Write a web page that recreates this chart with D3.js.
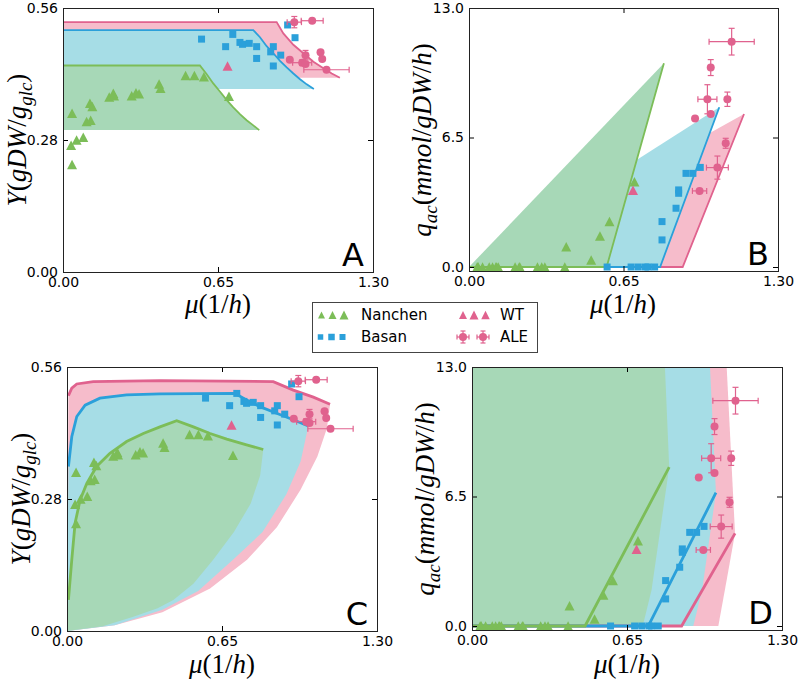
<!DOCTYPE html>
<html><head><meta charset="utf-8">
<script src="https://cdn.jsdelivr.net/npm/d3@7"></script>
<style>body{margin:0;background:#fff}</style>
</head><body><svg id="c" width="800" height="680" xmlns="http://www.w3.org/2000/svg"></svg>
<script>
// ---------------- data ----------------
const X_TICKS = [0, 0.65, 1.30];
const Y_TICKS_YIELD = [0, 0.28, 0.56];
const Y_TICKS_QAC = [0, 6.5, 13.0];
const LEGEND_LABELS = ["Nanchen", "Basan", "WT", "ALE"];
const PANEL_LETTERS = ["A", "B", "C", "D"];

// experimental data
const nanMu = [0.034, 0.038, 0.038, 0.057, 0.085, 0.099, 0.113, 0.116, 0.123, 0.194, 0.211, 0.214, 0.288, 0.306, 0.319, 0.403, 0.409, 0.514, 0.551, 0.591, 0.696];
const nanY  = [0.269, 0.337, 0.228, 0.280, 0.286, 0.319, 0.358, 0.322, 0.351, 0.371, 0.379, 0.374, 0.374, 0.380, 0.378, 0.399, 0.390, 0.417, 0.417, 0.414, 0.373];
const nanQ  = [0, 0, 0, 0, 0, 0, 0, 0, 0, 0, 0, 0, 0, 0, 0, 0, 1.02, 0.35, 1.56, 2.28, 4.28];

const basMu = [0.581, 0.682, 0.712, 0.742, 0.753, 0.781, 0.812, 0.812, 0.871, 0.882, 0.882, 0.913, 0.942, 0.973];
const basY  = [0.494, 0.478, 0.504, 0.487, 0.483, 0.485, 0.478, 0.453, 0.467, 0.478, 0.437, 0.460, 0.524, 0.497];
const basQ  = [0, 0, 0, 0, 0, 0, 1.36, 2.28, 2.95, 3.70, 3.87, 4.70, 4.70, 5.00];

const wtMu = [0.690];
const wtY  = [0.437];
const wtQ  = [3.85];

const aleMu    = [1.105, 1.017, 1.003, 1.087, 1.017, 0.951, 1.080, 1.045, 0.970];
const aleY     = [0.429, 0.460, 0.444, 0.452, 0.441, 0.450, 0.466, 0.533, 0.530];
const aleQ     = [11.31, 10.01, 8.42, 8.42, 7.68, 7.46, 6.21, 4.99, 3.82];
const aleMuErr = [0.095, 0, 0.040, 0, 0, 0, 0, 0.046, 0.030];
const aleYErr  = [0, 0.010, 0.006, 0, 0, 0, 0, 0, 0.012];
const aleQErr  = [0.67, 0.40, 0.73, 0.36, 0, 0, 0.25, 0.58, 0];

// panel A model envelopes (max yield curve; fill down to curve end value)
const A_gMu = [0, 0.574, 0.602, 0.630, 0.658, 0.686, 0.714, 0.742, 0.770, 0.798, 0.823];
const A_gY  = [0.438, 0.438, 0.420, 0.400, 0.383, 0.365, 0.349, 0.335, 0.322, 0.311, 0.301];
const A_bMu = [0, 0.798, 0.826, 0.854, 0.882, 0.910, 0.938, 0.966, 0.994, 1.022, 1.052];
const A_bY  = [0.513, 0.513, 0.498, 0.479, 0.464, 0.448, 0.434, 0.421, 0.409, 0.398, 0.388];
const A_pMu = [0, 0.896, 0.924, 0.966, 1.008, 1.050, 1.092, 1.127, 1.161];
const A_pY  = [0.530, 0.530, 0.506, 0.482, 0.464, 0.446, 0.432, 0.421, 0.412];

// panel B model: triangles (origin, onset, apex)
const B_gMu = [0, 0.579, 0.820];  const B_gQ = [0, 0, 10.23];
const B_bMu = [0, 0.804, 1.053];  const B_bQ = [0, 0, 8.02];
const B_pMu = [0, 0.899, 1.157];  const B_pQ = [0, 0, 7.68];

// panel C model: upper (line) and lower boundary
const C_gUpMu = [0.006, 0.020, 0.034, 0.055, 0.083, 0.124, 0.180, 0.250, 0.320, 0.390, 0.460, 0.530, 0.600, 0.670, 0.753, 0.823];
const C_gUpY  = [0.066, 0.151, 0.229, 0.278, 0.313, 0.349, 0.377, 0.402, 0.419, 0.433, 0.446, 0.433, 0.419, 0.407, 0.395, 0.385];
const C_gLoMu = [0, 0.150, 0.278, 0.380, 0.446, 0.530, 0.613, 0.700, 0.770, 0.810, 0.823];
const C_gLoY  = [0, 0.010, 0.030, 0.048, 0.066, 0.100, 0.151, 0.210, 0.270, 0.330, 0.385];
const C_bUpMu = [0.006, 0.020, 0.041, 0.076, 0.138, 0.250, 0.390, 0.704, 0.753, 0.809, 0.879, 0.949, 1.012];
const C_bUpY  = [0.349, 0.412, 0.455, 0.479, 0.494, 0.501, 0.503, 0.504, 0.490, 0.476, 0.462, 0.448, 0.435];
const C_bLoMu = [0, 0.200, 0.400, 0.550, 0.696, 0.820, 0.920, 0.980, 1.012];
const C_bLoY  = [0, 0.012, 0.045, 0.085, 0.151, 0.210, 0.290, 0.360, 0.435];
const C_pUpMu = [0.006, 0.020, 0.041, 0.110, 0.390, 0.865, 0.949, 1.033, 1.103];
const C_pUpY  = [0.499, 0.515, 0.524, 0.529, 0.531, 0.529, 0.511, 0.496, 0.481];
const C_pLoMu = [0, 0.200, 0.400, 0.600, 0.755, 0.880, 0.980, 1.050, 1.090, 1.103];
const C_pLoY  = [0, 0.012, 0.040, 0.090, 0.151, 0.220, 0.300, 0.370, 0.430, 0.481];

// panel D model: region right edges (bottom to top) and lines
const D_gEdgeMu = [0.716, 0.753, 0.827, 0.809]; const D_gEdgeQ = [0, 1.81, 7.97, 13.0];
const D_bEdgeMu = [0.928, 0.965, 1.023, 0.998]; const D_bEdgeQ = [0, 1.81, 6.69, 13.0];
const D_pEdgeMu = [1.033, 1.068, 1.103, 1.068]; const D_pEdgeQ = [0, 2.31, 4.65, 13.0];
const D_gLineMu = [0, 0.474, 0.827]; const D_gLineQ = [0, 0, 7.97];
const D_bLineMu = [0, 0.739, 1.023]; const D_bLineQ = [0, 0, 6.69];
const D_pLineMu = [0, 0.879, 1.103]; const D_pLineQ = [0, 0, 4.65];

// ---------------- style ----------------
const colG = "#7cbd58", colB = "#2ba0da", colP = "#e0628e";
const fillG = "#a7d8b7", fillB = "#a6dde6", fillP = "#f6bccb";
const TICKFONT = "DejaVu Sans";
const MATHFONT = "Liberation Serif";

const svg = d3.select("#c");
const zip = (a, b) => a.map((v, i) => [v, b[i]]);

function panel(name, box, ydom) {
  const x = d3.scaleLinear().domain([0, 1.3]).range([box.x0, box.x1]);
  const y = d3.scaleLinear().domain(ydom).range([box.y1, box.y0]);
  const id = "clip" + name;
  svg.append("clipPath").attr("id", id).append("rect")
    .attr("x", box.x0).attr("y", box.y0).attr("width", box.x1 - box.x0).attr("height", box.y1 - box.y0);
  const g = svg.append("g");
  const plot = g.append("g").attr("clip-path", `url(#${id})`);
  return { x, y, g, plot, box };
}

function axes(P, yticks, yfmt) {
  const { x, y, g, box } = P;
  const ax = (gen, tr) => {
    const a = g.append("g").attr("transform", tr).call(gen);
    a.select(".domain").remove();
    a.attr("font-family", TICKFONT).attr("font-size", 14);
    a.selectAll("line").attr("stroke", "#000");
    a.selectAll("text").attr("fill", "#000");
    return a;
  };
  ax(d3.axisBottom(x).tickValues(X_TICKS).tickFormat(d3.format(".2f")).tickSize(-5).tickPadding(5), `translate(0,${box.y1})`);
  ax(d3.axisTop(x).tickValues(X_TICKS).tickFormat("").tickSize(-5), `translate(0,${box.y0})`);
  ax(d3.axisLeft(y).tickValues(yticks).tickFormat(d3.format(yfmt)).tickSize(-5).tickPadding(5), `translate(${box.x0},0)`);
  ax(d3.axisRight(y).tickValues(yticks).tickFormat("").tickSize(-5), `translate(${box.x1},0)`);
  g.append("rect").attr("x", box.x0 + 0.5).attr("y", box.y0 + 0.5)
    .attr("width", box.x1 - box.x0).attr("height", box.y1 - box.y0)
    .attr("fill", "none").attr("stroke", "#222").attr("stroke-width", 1);
}

function letter(P, t) {
  P.g.append("text").attr("x", P.box.x1 - 9).attr("y", P.box.y1 - 6)
    .attr("text-anchor", "end").attr("font-family", TICKFONT).attr("font-size", 32).attr("fill", "#000").text(t);
}

function triPath(w, h) { return `M0,${-h/2}L${w/2},${h/2}L${-w/2},${h/2}Z`; }

function markers(P, ykey) {
  const { x, y } = P;
  const yN = ykey === "Y" ? nanY : nanQ;
  const yB = ykey === "Y" ? basY : basQ;
  const yW = ykey === "Y" ? wtY : wtQ;
  const yA = ykey === "Y" ? aleY : aleQ;
  const yAE = ykey === "Y" ? aleYErr : aleQErr;
  const layer = P.g.append("g");
  layer.selectAll(".n").data(zip(nanMu, yN)).join("path")
    .attr("d", triPath(10, 9.5)).attr("fill", colG)
    .attr("transform", d => `translate(${x(d[0])},${y(d[1])})`);
  layer.selectAll(".b").data(zip(basMu, yB)).join("rect")
    .attr("x", d => x(d[0]) - 3.5).attr("y", d => y(d[1]) - 3.5)
    .attr("width", 7).attr("height", 7).attr("fill", colB);
  layer.selectAll(".w").data(zip(wtMu, yW)).join("path")
    .attr("d", triPath(10, 9.5)).attr("fill", colP)
    .attr("transform", d => `translate(${x(d[0])},${y(d[1])})`);
  const ale = aleMu.map((m, i) => ({ m, v: yA[i], em: aleMuErr[i], ev: yAE[i] }));
  const eb = layer.append("g").attr("stroke", colP).attr("stroke-width", 1.2);
  ale.forEach(d => {
    const cx = x(d.m), cy = y(d.v);
    if (d.em > 0) {
      const xa = x(d.m - d.em), xb = x(d.m + d.em);
      eb.append("line").attr("x1", xa).attr("x2", xb).attr("y1", cy).attr("y2", cy);
      eb.append("line").attr("x1", xa).attr("x2", xa).attr("y1", cy - 3).attr("y2", cy + 3);
      eb.append("line").attr("x1", xb).attr("x2", xb).attr("y1", cy - 3).attr("y2", cy + 3);
    }
    if (d.ev > 0) {
      const ya = y(d.v - d.ev), yb = y(d.v + d.ev);
      eb.append("line").attr("x1", cx).attr("x2", cx).attr("y1", ya).attr("y2", yb);
      eb.append("line").attr("x1", cx - 3).attr("x2", cx + 3).attr("y1", ya).attr("y2", ya);
      eb.append("line").attr("x1", cx - 3).attr("x2", cx + 3).attr("y1", yb).attr("y2", yb);
    }
  });
  layer.selectAll(".a").data(ale).join("circle")
    .attr("cx", d => x(d.m)).attr("cy", d => y(d.v)).attr("r", 4).attr("fill", colP);
}

function mathLabel(parts, tx, ty, rot) {
  const t = svg.append("text").attr("font-family", MATHFONT).attr("font-size", 27)
    .attr("fill", "#000").attr("text-anchor", "middle")
    .attr("transform", `translate(${tx},${ty})` + (rot ? " rotate(-90)" : ""));
  parts.forEach(p => {
    const s = t.append("tspan").text(p.t).attr("font-style", p.i ? "italic" : "normal");
    if (p.sub) s.attr("font-size", 19).attr("dy", 6);
    if (p.back) s.attr("dy", -6);
  });
}
const XLAB = [{ t: "μ", i: 1 }, { t: "(1/" }, { t: "h", i: 1 }, { t: ")" }];
const YLAB = [{ t: "Y", i: 1 }, { t: "(" }, { t: "gDW", i: 1 }, { t: "/" }, { t: "g", i: 1 }, { t: "glc", i: 1, sub: 1 }, { t: ")", back: 1 }];
const QLAB = [{ t: "q", i: 1 }, { t: "ac", i: 1, sub: 1 }, { t: "(", back: 1 }, { t: "mmol", i: 1 }, { t: "/" }, { t: "gDW", i: 1 }, { t: "/" }, { t: "h", i: 1 }, { t: ")" }];

const lineGen = (P) => d3.line().x(d => P.x(d[0])).y(d => P.y(d[1]));

// ---------------- Panel A ----------------
{
  const P = panel("A", { x0: 63, x1: 373, y0: 8, y1: 272 }, [0, 0.56]);
  const sets = [[A_pMu, A_pY, fillP, colP], [A_bMu, A_bY, fillB, colB], [A_gMu, A_gY, fillG, colG]];
  sets.forEach(([m, v, f]) => {
    const base = v[v.length - 1];
    P.plot.append("path").datum(zip(m, v))
      .attr("d", d3.area().x(d => P.x(d[0])).y0(P.y(base)).y1(d => P.y(d[1])))
      .attr("fill", f);
  });
  sets.forEach(([m, v, f, c]) => {
    P.plot.append("path").datum(zip(m, v)).attr("d", lineGen(P))
      .attr("fill", "none").attr("stroke", c).attr("stroke-width", 1.8);
  });
  markers(P, "Y");
  axes(P, Y_TICKS_YIELD, ".2f");
  letter(P, PANEL_LETTERS[0]);
  mathLabel(YLAB, 26, 140, true);
  mathLabel(XLAB, 218, 313, false);
}

// ---------------- Panel B ----------------
{
  const P = panel("B", { x0: 469, x1: 778, y0: 8, y1: 271 }, [-0.2, 13]);
  const sets = [[B_pMu, B_pQ, fillP, colP], [B_bMu, B_bQ, fillB, colB], [B_gMu, B_gQ, fillG, colG]];
  sets.forEach(([m, q, f]) => {
    P.plot.append("path").datum(zip(m, q)).attr("d", lineGen(P).curve(d3.curveLinearClosed)).attr("fill", f);
  });
  sets.forEach(([m, q, f, c]) => {
    P.plot.append("path").datum(zip(m, q)).attr("d", lineGen(P))
      .attr("fill", "none").attr("stroke", c).attr("stroke-width", 1.8);
  });
  markers(P, "Q");
  axes(P, Y_TICKS_QAC, ".1f");
  letter(P, PANEL_LETTERS[1]);
  mathLabel(QLAB, 431, 140, true);
  mathLabel(XLAB, 623, 313, false);
}

// ---------------- Panel C ----------------
{
  const P = panel("C", { x0: 67, x1: 377, y0: 367, y1: 631 }, [0, 0.56]);
  const sets = [
    [C_pUpMu, C_pUpY, C_pLoMu, C_pLoY, fillP, colP],
    [C_bUpMu, C_bUpY, C_bLoMu, C_bLoY, fillB, colB],
    [C_gUpMu, C_gUpY, C_gLoMu, C_gLoY, fillG, colG]];
  sets.forEach(([um, uy, lm, ly, f]) => {
    const poly = zip(um, uy).concat(zip(lm, ly).reverse());
    P.plot.append("path").datum(poly).attr("d", lineGen(P).curve(d3.curveLinearClosed)).attr("fill", f);
  });
  sets.forEach(([um, uy, lm, ly, f, c]) => {
    P.plot.append("path").datum(zip(um, uy)).attr("d", lineGen(P))
      .attr("fill", "none").attr("stroke", c).attr("stroke-width", 2.8);
  });
  markers(P, "Y");
  axes(P, Y_TICKS_YIELD, ".2f");
  letter(P, PANEL_LETTERS[2]);
  mathLabel(YLAB, 30, 499, true);
  mathLabel(XLAB, 222, 673, false);
}

// ---------------- Panel D ----------------
{
  const P = panel("D", { x0: 472, x1: 782, y0: 367, y1: 630 }, [-0.2, 13]);
  const regs = [[D_pEdgeMu, D_pEdgeQ, fillP], [D_bEdgeMu, D_bEdgeQ, fillB], [D_gEdgeMu, D_gEdgeQ, fillG]];
  regs.forEach(([m, q, f]) => {
    const poly = [[0, 0]].concat(zip(m, q)).concat([[0, 13.0]]);
    P.plot.append("path").datum(poly).attr("d", lineGen(P).curve(d3.curveLinearClosed)).attr("fill", f);
  });
  const lines = [[D_pLineMu, D_pLineQ, colP], [D_bLineMu, D_bLineQ, colB], [D_gLineMu, D_gLineQ, colG]];
  lines.forEach(([m, q, c]) => {
    P.plot.append("path").datum(zip(m, q)).attr("d", lineGen(P))
      .attr("fill", "none").attr("stroke", c).attr("stroke-width", 2.8);
  });
  markers(P, "Q");
  axes(P, Y_TICKS_QAC, ".1f");
  letter(P, PANEL_LETTERS[3]);
  mathLabel(QLAB, 434, 499, true);
  mathLabel(XLAB, 627, 673, false);
}

// ---------------- Legend ----------------
{
  const L = svg.append("g");
  L.append("rect").attr("x", 312.5).attr("y", 302.5).attr("width", 225).attr("height", 50)
    .attr("fill", "#fff").attr("stroke", "#444").attr("stroke-width", 1);
  const r1 = 315, r2 = 337;
  [[321.5, 7], [332.5, 8], [344, 9]].forEach(([cx, s]) =>
    L.append("path").attr("d", triPath(s, s)).attr("fill", colG).attr("transform", `translate(${cx},${r1})`));
  [[320.5, 5.5], [331.5, 6.5], [342.5, 6]].forEach(([cx, s]) =>
    L.append("rect").attr("x", cx - s / 2).attr("y", r2 - s / 2).attr("width", s).attr("height", s).attr("fill", colB));
  [[463, 8], [474, 9], [485.5, 8.5]].forEach(([cx, s]) =>
    L.append("path").attr("d", triPath(s, s)).attr("fill", colP).attr("transform", `translate(${cx},${r1})`));
  [463, 483].forEach(cx => {
    const e = L.append("g").attr("stroke", colP).attr("stroke-width", 1.2);
    e.append("line").attr("x1", cx - 6).attr("x2", cx + 6).attr("y1", r2).attr("y2", r2);
    e.append("line").attr("x1", cx).attr("x2", cx).attr("y1", r2 - 6).attr("y2", r2 + 6);
    e.append("line").attr("x1", cx - 6).attr("x2", cx - 6).attr("y1", r2 - 2.5).attr("y2", r2 + 2.5);
    e.append("line").attr("x1", cx + 6).attr("x2", cx + 6).attr("y1", r2 - 2.5).attr("y2", r2 + 2.5);
    e.append("line").attr("x1", cx - 2.5).attr("x2", cx + 2.5).attr("y1", r2 - 6).attr("y2", r2 - 6);
    e.append("line").attr("x1", cx - 2.5).attr("x2", cx + 2.5).attr("y1", r2 + 6).attr("y2", r2 + 6);
    L.append("circle").attr("cx", cx).attr("cy", r2).attr("r", 4).attr("fill", colP);
  });
  const tx = [[361, r1, LEGEND_LABELS[0]], [361, r2, LEGEND_LABELS[1]], [500, r1, LEGEND_LABELS[2]], [500, r2, LEGEND_LABELS[3]]];
  tx.forEach(([x, y, t]) => L.append("text").attr("x", x).attr("y", y).attr("dy", "0.36em")
    .attr("font-family", TICKFONT).attr("font-size", 15).attr("fill", "#000").text(t));
}
</script></body></html>
